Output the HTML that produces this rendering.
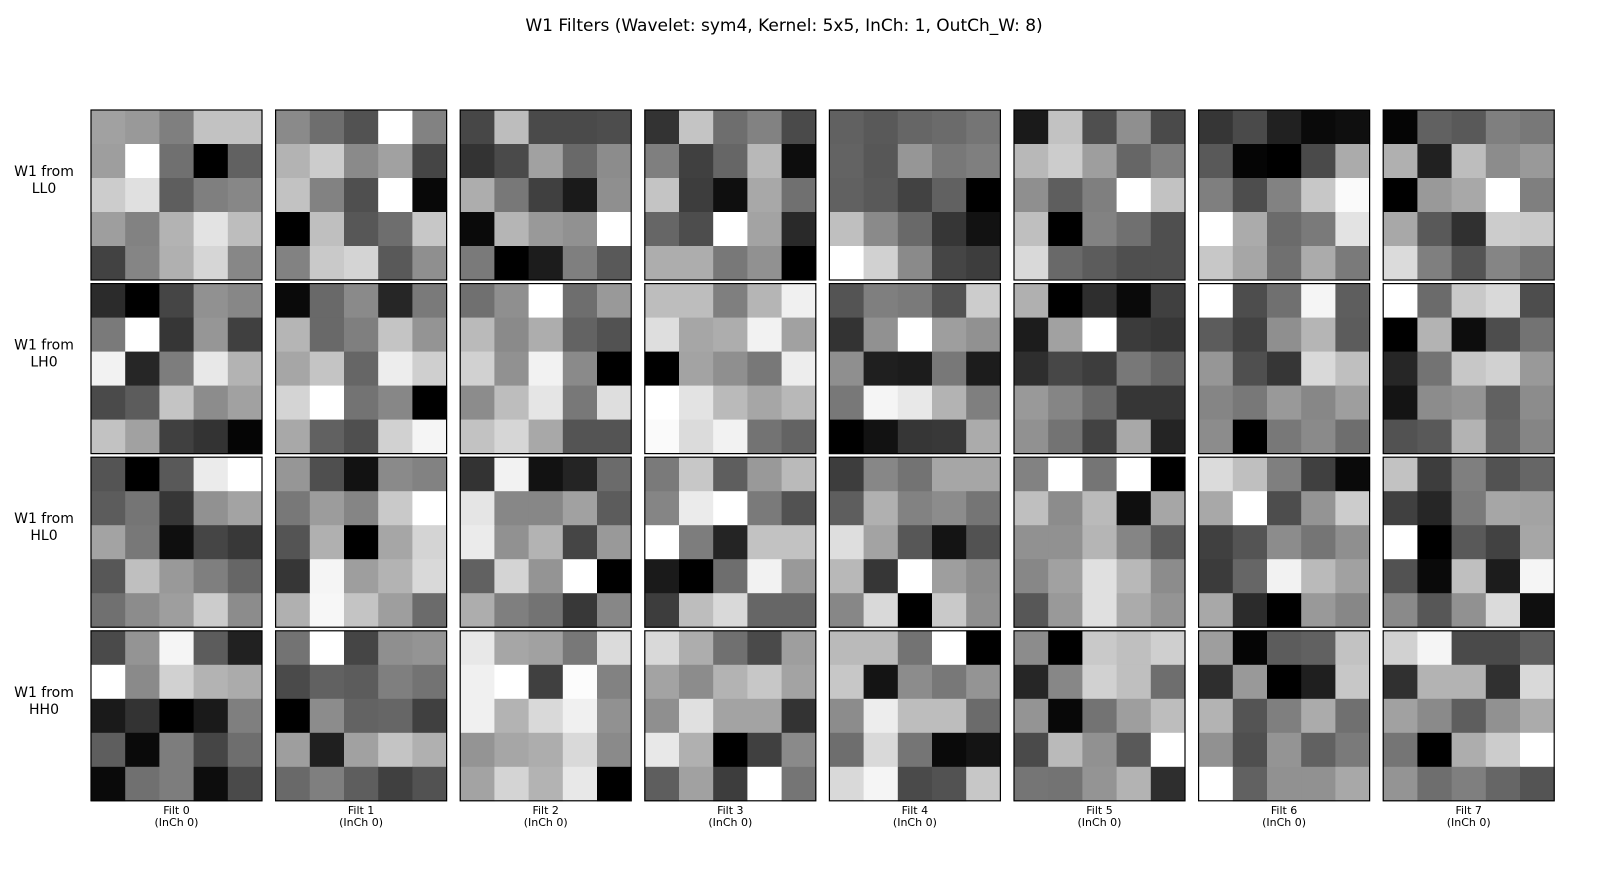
<!DOCTYPE html>
<html><head><meta charset="utf-8">
<style>
body{margin:0;background:#fff;font-family:"Liberation Sans","DejaVu Sans",sans-serif;}
svg text{font-family:"DejaVu Sans","Liberation Sans",sans-serif;}
</style></head>
<body>
<svg id="chart" width="1600" height="880" viewBox="0 0 1600 880" xmlns="http://www.w3.org/2000/svg">
<rect width="1600" height="880" fill="#fff"/>
<text x="784" y="31" font-size="17" text-anchor="middle" fill="#000">W1 Filters (Wavelet: sym4, Kernel: 5x5, InCh: 1, OutCh_W: 8)</text>
<g id="panels"></g>
</svg>
<script>
const rowLabels = ["LL0","LH0","HL0","HH0"];
const colLabels = ["Filt 0","Filt 1","Filt 2","Filt 3","Filt 4","Filt 5","Filt 6","Filt 7"];
// brightness 0-100, [row][filter][kernel row][kernel col]
const valuesLL = [
 [[63,60,50,76,76],[62,100,44,0,38],[80,88,37,50,53],[62,51,70,89,74],[26,52,69,84,53]],
 [[54,43,32,100,51],[70,80,54,63,27],[76,51,31,100,3],[0,75,34,43,78],[51,79,83,35,56]],
 [[28,74,29,29,30],[20,29,63,41,55],[68,47,25,10,56],[4,71,60,57,100],[48,0,11,50,35]],
 [[20,77,43,51,29],[50,25,40,72,5],[77,24,6,66,44],[40,30,100,64,16],[68,68,47,57,0]],
 [[38,35,40,42,46],[39,34,59,47,50],[38,35,26,38,0],[75,54,41,21,7],[100,82,54,27,24]],
 [[10,76,31,56,29],[72,80,62,40,50],[56,37,50,100,76],[75,0,51,44,31],[85,41,36,31,31]],
 [[21,29,13,4,6],[35,2,0,29,67],[50,30,51,78,98],[100,67,42,48,89],[78,65,44,67,48]],
 [[2,38,35,50,47],[69,13,74,55,60],[0,60,66,100,50],[66,35,19,80,79],[86,50,33,52,45]]
];
const valuesLH = [
 [[17,0,27,57,53],[48,100,21,59,25],[95,15,49,91,70],[29,36,77,55,63],[76,63,25,20,2]],
 [[4,41,54,15,48],[71,41,50,77,58],[65,77,40,93,81],[83,100,45,53,0],[66,38,31,82,96]],
 [[44,56,100,43,60],[73,54,68,39,32],[82,57,95,54,0],[55,74,90,47,87],[76,84,66,33,33]],
 [[74,74,50,71,94],[87,65,68,95,63],[0,64,56,47,93],[100,89,73,65,72],[98,86,95,45,39]],
 [[33,50,48,32,80],[20,57,100,62,57],[56,12,11,47,11],[47,96,91,70,50],[0,7,21,22,67]],
 [[69,0,18,4,25],[11,63,100,23,21],[18,28,24,47,40],[60,52,41,21,21],[57,45,26,66,14]],
 [[100,30,44,96,37],[36,26,56,71,36],[59,31,21,85,75],[52,47,60,53,62],[55,0,47,54,43]],
 [[100,42,79,85,30],[0,70,5,30,45],[15,45,78,82,60],[8,55,58,38,55],[32,35,70,40,52]]
];
const valuesHL = [
 [[33,0,35,92,100],[36,46,21,57,64],[64,47,6,27,22],[34,75,60,50,40],[44,55,62,80,55]],
 [[59,31,7,54,51],[47,61,52,79,100],[33,69,0,65,83],[21,96,62,70,85],[69,97,77,62,42]],
 [[20,95,7,14,42],[90,53,53,63,36],[92,57,70,27,60],[38,83,58,100,0],[68,50,45,22,53]],
 [[48,78,37,60,73],[52,92,100,48,32],[100,49,14,76,76],[10,0,43,95,60],[24,74,85,40,40]],
 [[24,53,45,65,65],[37,69,51,55,46],[87,64,34,8,32],[72,21,100,62,55],[53,85,0,79,56]],
 [[51,100,46,100,0],[75,55,73,6,65],[57,57,71,52,36],[53,63,88,72,55],[34,60,88,67,58]],
 [[86,75,50,25,4],[66,100,30,58,80],[25,33,55,46,56],[23,40,95,73,63],[66,17,0,60,53]],
 [[76,24,50,32,40],[25,15,48,65,64],[100,0,35,26,65],[32,4,75,11,96],[54,34,57,86,6]]
];
const valuesHH = [
 [[29,58,96,36,13],[100,54,82,70,67],[10,20,0,10,50],[37,4,49,27,43],[4,44,49,5,29]],
 [[45,100,27,56,58],[29,38,36,50,45],[0,55,39,40,25],[62,12,63,77,69],[41,50,37,25,32]],
 [[91,65,63,47,86],[94,100,25,99,51],[94,70,85,94,57],[58,65,68,85,54],[64,83,70,91,0]],
 [[85,68,44,29,62],[64,55,70,78,64],[56,88,64,64,20],[91,69,0,25,54],[37,63,24,100,46]],
 [[73,73,45,100,0],[78,8,55,47,58],[55,93,74,74,42],[43,85,46,4,8],[85,96,29,32,78]],
 [[55,0,79,75,81],[15,53,82,75,43],[58,3,45,62,74],[29,73,57,35,100],[46,45,58,70,18]],
 [[62,2,36,38,76],[18,60,0,12,78],[70,33,50,67,44],[57,31,58,38,48],[100,38,57,57,66]],
 [[82,96,29,29,37],[19,70,70,19,85],[63,54,37,57,67],[46,0,68,80,100],[58,43,50,40,33]]
];
const allRows = [valuesLL, valuesLH, valuesHL, valuesHH];

const NS = "http://www.w3.org/2000/svg";
const g = document.getElementById("panels");
const x0 = 91, colStep = 184.6, pw = 171;
const y0 = 110, rowStep = 173.6, ph = 170;
function px(c){ return x0 + c*colStep; }
function py(r){ return y0 + r*rowStep; }
function gray(v){ const k = Math.round(Math.max(0,Math.min(100,v))*2.55); return `rgb(${k},${k},${k})`; }

rowLabels.forEach((lab, r) => {
  const t = document.createElementNS(NS, "text");
  
  
  t.setAttribute("x", 44); t.setAttribute("y", py(r) + ph/2 - 19);
  t.setAttribute("font-size", "14"); t.setAttribute("text-anchor", "middle");
  const s1 = document.createElementNS(NS, "tspan"); s1.setAttribute("x", 44); s1.textContent = "W1 from";
  const s2 = document.createElementNS(NS, "tspan"); s2.setAttribute("x", 44); s2.setAttribute("dy", "17"); s2.textContent = lab;
  t.appendChild(s1); t.appendChild(s2); g.appendChild(t);
});

allRows.forEach((rowData, r) => {
  rowData.forEach((kernel, c) => {
    const panel = document.createElementNS(NS, "g");
    
    
    const cw = pw/5, ch = ph/5;
    kernel.forEach((krow, i) => {
      krow.forEach((v, j) => {
        const rc = document.createElementNS(NS, "rect");
        
        
        rc.setAttribute("x", px(c) + j*cw); rc.setAttribute("y", py(r) + i*ch);
        rc.setAttribute("width", cw + 0.5); rc.setAttribute("height", ch + 0.5);
        rc.setAttribute("fill", gray(v));
        panel.appendChild(rc);
      });
    });
    const b = document.createElementNS(NS, "rect");
    
    
    b.setAttribute("x", px(c)); b.setAttribute("y", py(r));
    b.setAttribute("width", pw); b.setAttribute("height", ph);
    b.setAttribute("fill", "none"); b.setAttribute("stroke", "#000"); b.setAttribute("stroke-width", "1.2");
    panel.appendChild(b);
    g.appendChild(panel);
  });
});

colLabels.forEach((lab, c) => {
  const t = document.createElementNS(NS, "text");
  
  
  t.setAttribute("x", px(c) + pw/2); t.setAttribute("y", 814);
  t.setAttribute("font-size", "11"); t.setAttribute("text-anchor", "middle");
  const s1 = document.createElementNS(NS, "tspan"); s1.setAttribute("x", px(c) + pw/2); s1.textContent = lab;
  const s2 = document.createElementNS(NS, "tspan"); s2.setAttribute("x", px(c) + pw/2); s2.setAttribute("dy", "12"); s2.textContent = "(InCh 0)";
  t.appendChild(s1); t.appendChild(s2); g.appendChild(t);
});
</script>
</body></html>
